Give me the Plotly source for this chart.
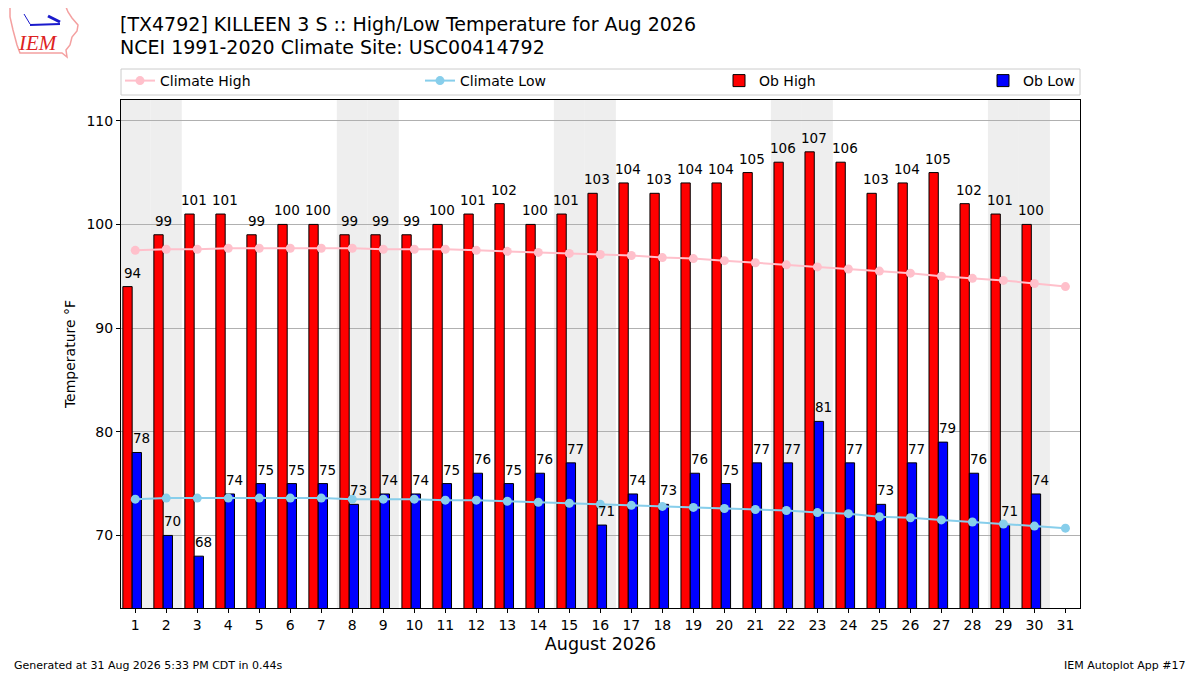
import datetime
import plotly.graph_objects as go

# August 2026 data, KILLEEN 3 S
days = list(range(1, 32))
ob_high = [94, 99, 101, 101, 99, 100, 100, 99, 99, 99, 100, 101, 102, 100, 101,
           103, 104, 103, 104, 104, 105, 106, 107, 106, 103, 104, 105, 102, 101, 100]
ob_low = [78, 70, 68, 74, 75, 75, 75, 73, 74, 74, 75, 76, 75, 76, 77,
          71, 74, 73, 76, 75, 77, 77, 81, 77, 73, 77, 79, 76, 71, 74]
clim_high = [97.5, 97.6, 97.6, 97.7, 97.7, 97.7, 97.7, 97.7, 97.6, 97.6, 97.6,
             97.5, 97.4, 97.3, 97.2, 97.1, 97.0, 96.8, 96.7, 96.5, 96.3, 96.1,
             95.9, 95.7, 95.5, 95.3, 95.0, 94.8, 94.6, 94.3, 94.0]
clim_low = [73.5, 73.6, 73.6, 73.6, 73.6, 73.6, 73.6, 73.5, 73.5, 73.5, 73.4,
            73.4, 73.3, 73.2, 73.1, 73.0, 72.9, 72.8, 72.7, 72.6, 72.5, 72.4,
            72.2, 72.1, 71.8, 71.7, 71.5, 71.3, 71.1, 70.9, 70.7]
obs_days = days[:len(ob_high)]

FONT = "DejaVu Sans"

# plot area on the page (page has an 8px body margin)
PL, PT, PW, PH = 121, 100, 959, 508


def px(x):
    return (x - PL) / PW


def py(y):
    return (PT + PH - y) / PH


fig = go.Figure()

# weekend shading
for d in days:
    if datetime.date(2026, 8, d).weekday() >= 5:
        fig.add_shape(type="rect", xref="x", yref="paper", x0=d - 0.5, x1=d + 0.5,
                      y0=0, y1=1, fillcolor="#eeeeee", line_width=0, layer="below")

fig.add_trace(go.Bar(x=obs_days, y=ob_high, name="Ob High", width=0.3, offset=-0.4,
                     marker=dict(color="red", line=dict(color="black", width=1)),
                     legend="legend3"))
fig.add_trace(go.Bar(x=obs_days, y=ob_low, name="Ob Low", width=0.3, offset=-0.1,
                     marker=dict(color="blue", line=dict(color="black", width=1)),
                     legend="legend4"))
fig.add_trace(go.Scatter(x=days, y=clim_high, mode="lines+markers", name="Climate High",
                         line=dict(color="pink", width=2), marker=dict(size=9, color="pink"),
                         legend="legend"))
fig.add_trace(go.Scatter(x=days, y=clim_low, mode="lines+markers", name="Climate Low",
                         line=dict(color="skyblue", width=2), marker=dict(size=9, color="skyblue"),
                         legend="legend2"))

for d, v in zip(obs_days, ob_high):
    fig.add_annotation(x=d - 0.1, y=v, xref="x", yref="y", text=str(v), showarrow=False,
                       yanchor="bottom", yshift=4, font=dict(family=FONT, size=13.5, color="black"))
for d, v in zip(obs_days, ob_low):
    fig.add_annotation(x=d + 0.2, y=v, xref="x", yref="y", text=str(v), showarrow=False,
                       yanchor="bottom", yshift=4, font=dict(family=FONT, size=13.5, color="black"))

# titles
fig.add_annotation(x=px(118), y=py(24), xref="paper", yref="paper", xanchor="left", yanchor="middle",
                   text="[TX4792] KILLEEN 3 S :: High/Low Temperature for Aug 2026", showarrow=False,
                   font=dict(family=FONT, size=19, color="black"))
fig.add_annotation(x=px(118), y=py(47), xref="paper", yref="paper", xanchor="left", yanchor="middle",
                   text="NCEI 1991-2020 Climate Site: USC00414792", showarrow=False,
                   font=dict(family=FONT, size=19, color="black"))

# IEM logo (rough)
iowa = [(10, 7), (66, 7), (68, 12), (72, 18), (78, 25), (77, 31), (72, 37), (70, 45),
        (66, 50), (67, 57), (62, 53), (20, 53), (17, 45), (13, 30), (10, 17)]
path = "M " + " L ".join(f"{px(a)},{py(b)}" for a, b in iowa) + " Z"
fig.add_shape(type="path", xref="paper", yref="paper", path=path,
              line=dict(color="#f4a0a0", width=1.5))
fig.add_shape(type="line", xref="paper", yref="paper", x0=px(30), y0=py(25), x1=px(60), y1=py(24),
              line=dict(color="#1a1acc", width=2))
fig.add_shape(type="line", xref="paper", yref="paper", x0=px(48), y0=py(16), x1=px(60), y1=py(22),
              line=dict(color="#1a1acc", width=3))
fig.add_shape(type="line", xref="paper", yref="paper", x0=px(24), y0=py(14), x1=px(30), y1=py(24),
              line=dict(color="#1a1acc", width=1))
fig.add_annotation(x=px(38), y=py(43), xref="paper", yref="paper", xanchor="center", yanchor="middle",
                   text="<i>IEM</i>", showarrow=False,
                   font=dict(family="Liberation Serif", size=21, color="#dd2222"))

# footer
fig.add_annotation(x=px(12), y=py(665), xref="paper", yref="paper",
                   text="Generated at 31 Aug 2026 5:33 PM CDT in 0.44s",
                   showarrow=False, xanchor="left", yanchor="middle",
                   font=dict(family=FONT, size=11, color="black"))
fig.add_annotation(x=px(1188), y=py(665), xref="paper", yref="paper", text="IEM Autoplot App #17",
                   showarrow=False, xanchor="right", yanchor="middle",
                   font=dict(family=FONT, size=11, color="black"))

# legend frame
fig.add_shape(type="rect", xref="paper", yref="paper", x0=0, x1=1, y0=py(95), y1=py(69),
              line=dict(color="#cccccc", width=1), fillcolor="white", layer="below")

leg_common = dict(yref="paper", y=py(81), yanchor="middle", xanchor="left", bgcolor="rgba(0,0,0,0)",
                  borderwidth=0, font=dict(family=FONT, size=14, color="black"), orientation="h")
fig.update_layout(
    legend=dict(x=px(120), **leg_common),
    legend2=dict(x=px(420), **leg_common),
    legend3=dict(x=px(719), **leg_common),
    legend4=dict(x=px(983), **leg_common),
)

fig.update_layout(
    width=1200, height=675,
    margin=dict(l=PL - 8, r=1200 - (PL - 8) - PW, t=PT - 8, b=675 - (PT - 8) - PH),
    paper_bgcolor="white", plot_bgcolor="white",
    barmode="overlay",
    showlegend=True,
    font=dict(family=FONT, size=14, color="black"),
    xaxis=dict(range=[0.54, 31.47], tickmode="array", tickvals=days, ticks="outside", ticklen=4,
               tickcolor="black", showgrid=False, zeroline=False, showline=True, linecolor="black",
               mirror=True, linewidth=1, tickfont=dict(size=14),
               title=dict(text="August 2026", font=dict(size=17.5), standoff=5)),
    yaxis=dict(range=[63, 112], tickvals=[70, 80, 90, 100, 110], ticks="outside", ticklen=4,
               tickcolor="black", showgrid=True, gridcolor="#b0b0b0", gridwidth=1, zeroline=False,
               showline=True, linecolor="black", mirror=True, linewidth=1, tickfont=dict(size=14),
               title=dict(text="Temperature °F", font=dict(size=14), standoff=7)),
)

fig.write_html("out.html", config={"displayModeBar": False})
